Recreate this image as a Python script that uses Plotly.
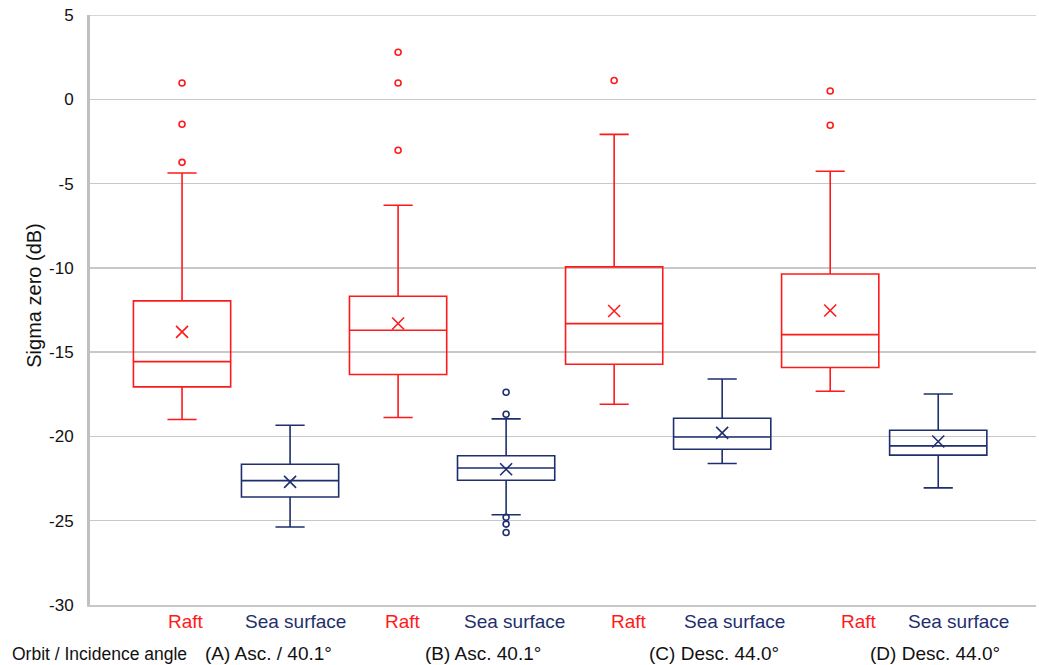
import plotly.graph_objects as go

# ---- data ----
groups = ["Raft", "Sea surface", "Raft", "Sea surface", "Raft", "Sea surface", "Raft", "Sea surface"]
positions = [0, 1, 2, 3, 4, 5, 6, 7]
lower_whisker = [-19.0, -25.37, -18.88, -24.65, -18.09, -21.61, -17.32, -23.05]
q1 = [-17.06, -23.59, -16.33, -22.60, -15.72, -20.76, -15.91, -21.11]
median = [-15.56, -22.62, -13.70, -21.87, -13.31, -20.03, -13.96, -20.56]
q3 = [-11.96, -21.65, -11.68, -21.15, -9.94, -18.92, -10.36, -19.63]
upper_whisker = [-4.37, -19.34, -6.29, -18.96, -2.08, -16.59, -4.27, -17.48]
mean = [-13.8, -22.7, -13.3, -21.95, -12.56, -19.79, -12.53, -20.3]
outliers = [
    [0.97, -1.48, -3.74],
    [],
    [2.79, 0.97, -3.02],
    [-17.38, -18.68, -24.8, -25.2, -25.7],
    [1.11],
    [],
    [0.49, -1.54],
    [],
]
orbit_labels = ["(A) Asc. / 40.1°", "(B) Asc. 40.1°", "(C) Desc. 44.0°", "(D) Desc. 44.0°"]
y_ticks = [5, 0, -5, -10, -15, -20, -25, -30]

RED = "#ff1a1a"
NAVY = "#1f2f6e"
GRID = "#c8c8c8"
colors = [RED if g == "Raft" else NAVY for g in groups]
FONT = "Liberation Sans, Arial, sans-serif"

fig = go.Figure()
for i, p in enumerate(positions):
    c = colors[i]
    fig.add_trace(go.Box(
        x=[p], q1=[q1[i]], median=[median[i]], q3=[q3[i]],
        lowerfence=[lower_whisker[i]], upperfence=[upper_whisker[i]],
        width=0.9, whiskerwidth=0.3,
        fillcolor="rgba(0,0,0,0)", line=dict(color=c, width=1.6),
        boxpoints=False, showlegend=False, hoverinfo="skip",
    ))
    fig.add_trace(go.Scatter(
        x=[p], y=[mean[i]], mode="markers", showlegend=False,
        marker=dict(symbol="x-thin-open", size=12, line=dict(color=c, width=1.6), color=c),
    ))
    if outliers[i]:
        fig.add_trace(go.Scatter(
            x=[p] * len(outliers[i]), y=outliers[i], mode="markers", showlegend=False,
            marker=dict(symbol="circle-open", size=6, line=dict(color=c, width=1.6), color=c),
        ))

# category labels under boxes (x offsets as in the reference)
label_x = [0.034, 1.046, 2.046, 3.074, 4.139, 5.111, 6.269, 7.185]
for i, g in enumerate(groups):
    fig.add_annotation(x=label_x[i], y=-0.0288, xref="x", yref="paper", text=g,
                       showarrow=False, xanchor="center", yanchor="middle",
                       font=dict(family=FONT, size=19, color=colors[i]))

orbit_x = [0.194, 2.231, 4.306, 6.352]
for i, t in enumerate(orbit_labels):
    fig.add_annotation(x=orbit_x[i], y=-0.083, xref="x", yref="paper", text=t,
                       showarrow=False, xanchor="left", yanchor="middle",
                       font=dict(family=FONT, size=19, color="#111111"))
fig.add_annotation(x=-0.085, y=-0.083, xref="paper", yref="paper", text="Orbit / Incidence angle",
                   showarrow=False, xanchor="left", yanchor="middle",
                   font=dict(family=FONT, size=17.5, color="#111111"))
fig.add_annotation(x=-0.0587, y=0.525, xref="paper", yref="paper", text="Sigma zero (dB)",
                   textangle=-90, showarrow=False, xanchor="center", yanchor="middle",
                   font=dict(family=FONT, size=20, color="#111111"))

# top gridline at the upper range edge
fig.add_shape(type="line", xref="paper", yref="y", x0=0, x1=1, y0=5, y1=5,
              line=dict(color=GRID, width=1.5), layer="below")

fig.update_layout(
    width=1039, height=665,
    margin=dict(l=90, r=3, t=15, b=60, autoexpand=False),
    plot_bgcolor="white", paper_bgcolor="white",
    font=dict(family=FONT, size=17, color="#111111"),
    showlegend=False,
    xaxis=dict(range=[-0.852, 7.905], showticklabels=False, showgrid=False, zeroline=False,
               showline=True, linecolor=GRID, linewidth=2, ticks="", automargin=False),
    yaxis=dict(range=[-30, 5], tickvals=y_ticks, ticktext=[str(v) for v in y_ticks],
               showgrid=True, gridcolor=GRID, gridwidth=1.5, zeroline=False,
               showline=True, linecolor="#c0c0c0", linewidth=3, ticks="", automargin=False,
               ticklabelstandoff=10, ticklabeloverflow="allow",
               tickfont=dict(size=17, color="#111111")),
)
# remove the default page margin so the figure fills the window exactly
fig.write_html("out.html",
               config={"displayModeBar": False, "staticPlot": True},
               post_script="document.body.style.margin='0';document.body.style.overflow='hidden';")
